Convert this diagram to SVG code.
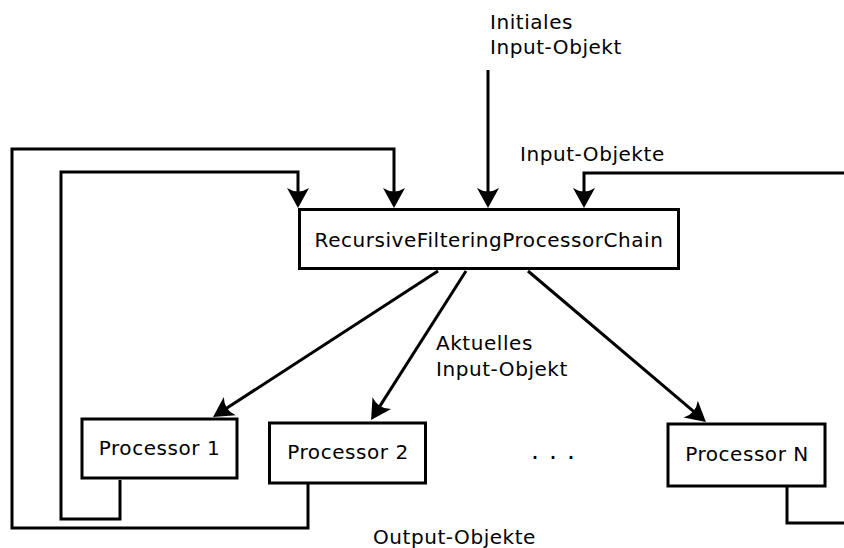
<svg xmlns="http://www.w3.org/2000/svg" width="844" height="548" viewBox="0 0 844 548">
  <style>
    .box { fill: #ffffff; stroke: #000000; stroke-width: 3; }
    .wire { fill: none; stroke: #000000; stroke-width: 3; stroke-linejoin: miter; }
    .arrow { marker-end: url(#head); }
    text { font-family: "DejaVu Sans", "Liberation Sans", sans-serif; font-size: 20px; letter-spacing: 0.55px; fill: #000000; }
    .mid { text-anchor: middle; }
    .dots { font-size: 25px; letter-spacing: 0; }
  </style>
  <defs>
    <marker id="head" markerUnits="userSpaceOnUse" markerWidth="40" markerHeight="40" refX="0" refY="0" orient="auto" overflow="visible">
      <path d="M12,0 L-8,-11 Q-1,0 -8,11 Z" fill="#000000"/>
    </marker>
  </defs>

  <rect width="844" height="548" fill="#ffffff"/>

  <g id="connectors">
    <!-- initial input into the chain -->
    <path class="wire arrow" d="M488,70 V196"/>
    <!-- feedback loop from Processor 1 -->
    <path class="wire arrow" d="M120,480 V519 H61 V172 H298 V196"/>
    <!-- feedback loop from Processor 2 -->
    <path class="wire arrow" d="M308,484 V528 H12 V149 H394 V196"/>
    <!-- feedback loop returning from the right -->
    <path class="wire arrow" d="M846,173 H584 V196"/>
    <!-- output of Processor N leaving to the right -->
    <path class="wire" d="M787,487 V523 H846"/>
    <!-- chain dispatches to the processors -->
    <path class="wire arrow" d="M438,271 L223.1,410.5"/>
    <path class="wire arrow" d="M466,271 L377.5,409.9"/>
    <path class="wire arrow" d="M528,271 L696.8,414.2"/>
  </g>

  <g id="chain">
    <rect class="box" x="299.5" y="209.5" width="379" height="59"/>
    <text class="mid" x="489" y="247">RecursiveFilteringProcessorChain</text>
  </g>

  <g id="processor1">
    <rect class="box" x="82" y="419" width="155" height="59"/>
    <text class="mid" x="159.5" y="455">Processor 1</text>
  </g>

  <g id="processor2">
    <rect class="box" x="269.5" y="423" width="156" height="60"/>
    <text class="mid" x="348" y="459">Processor 2</text>
  </g>

  <g id="processorN">
    <rect class="box" x="668" y="424" width="157" height="62"/>
    <text class="mid" x="747" y="461">Processor N</text>
  </g>

  <g id="labels">
    <text x="490" y="29">Initiales</text>
    <text x="490" y="54">Input-Objekt</text>
    <text x="520" y="161">Input-Objekte</text>
    <text x="436" y="350">Aktuelles</text>
    <text x="436" y="376">Input-Objekt</text>
    <text x="373" y="544">Output-Objekte</text>
    <text class="dots" x="531 549 567" y="459">...</text>
  </g>
</svg>
